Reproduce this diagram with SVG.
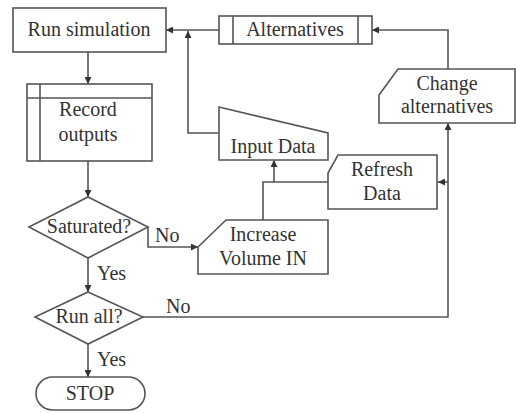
<svg xmlns="http://www.w3.org/2000/svg" width="516" height="413" viewBox="0 0 516 413" font-family="'Liberation Serif', 'DejaVu Serif', serif">
<style>
.s{fill:#fff;stroke:#555;stroke-width:1.6}
.l{fill:none;stroke:#555;stroke-width:1.6}
text{font-family:'Liberation Serif','DejaVu Serif',serif;font-size:20px;fill:#333;text-anchor:middle}
.lb{text-anchor:start}
</style>
<defs>
<marker id="a" viewBox="0 0 10 10" refX="10" refY="5" markerWidth="7" markerHeight="7" markerUnits="userSpaceOnUse" orient="auto">
<path d="M0,0L10,5L0,10z" fill="#333"/>
</marker>
</defs>
<rect width="516" height="413" fill="#fff"/>
<g id="connectors">
<path class="l" d="M88,52V84" marker-end="url(#a)"/>
<path class="l" d="M88,161V197" marker-end="url(#a)"/>
<path class="l" d="M88,258V292" marker-end="url(#a)"/>
<path class="l" d="M88,344V377" marker-end="url(#a)"/>
<path class="l" d="M219,30H166" marker-end="url(#a)"/>
<path class="l" d="M219,133H188V31" marker-end="url(#a)"/>
<path class="l" d="M448,69V30H372" marker-end="url(#a)"/>
<path class="l" d="M143,317H448V123" marker-end="url(#a)"/>
<path class="l" d="M448,182H438" marker-end="url(#a)"/>
<path class="l" d="M148,227V247H198" marker-end="url(#a)"/>
<path class="l" d="M263,220V182H328"/>
<path class="l" d="M274,182V160" marker-end="url(#a)"/>
<text class="lb" x="155" y="242">No</text>
<text class="lb" x="97" y="280">Yes</text>
<text class="lb" x="166" y="313">No</text>
<text class="lb" x="97" y="366">Yes</text>
</g>
<g id="run-simulation">
<rect class="s" x="13" y="8" width="153" height="44"/>
<text x="89" y="36">Run simulation</text>
</g>
<g id="alternatives">
<rect class="s" x="219" y="16" width="153" height="28"/>
<path class="l" d="M233,16V44M358,16V44"/>
<text x="295" y="36">Alternatives</text>
</g>
<g id="record-outputs">
<rect class="s" x="27" y="84" width="125" height="77"/>
<path class="l" d="M27,98H152M40,84V161"/>
<text x="88" y="116">Record</text>
<text x="88" y="141">outputs</text>
</g>
<g id="input-data">
<path class="s" d="M219,107L328,133V160H219Z"/>
<text x="273" y="153">Input Data</text>
</g>
<g id="change-alternatives">
<path class="s" d="M398,69H515V123H379V95Z"/>
<text x="447" y="90">Change</text>
<text x="447" y="113">alternatives</text>
</g>
<g id="refresh-data">
<path class="s" d="M338,155H437V209H328V173Z"/>
<text x="382" y="176">Refresh</text>
<text x="382" y="200">Data</text>
</g>
<g id="increase-volume">
<path class="s" d="M226,220H328V274H198V247Z"/>
<text x="263" y="241">Increase</text>
<text x="263" y="265">Volume IN</text>
</g>
<g id="saturated">
<path class="s" d="M88,197L148,227L88,258L29,227Z"/>
<text x="89" y="233">Saturated?</text>
</g>
<g id="run-all">
<path class="s" d="M88,292L143,317L88,344L35,317Z"/>
<text x="89" y="323">Run all?</text>
</g>
<g id="stop">
<rect class="s" x="36" y="377" width="109" height="33" rx="16.5"/>
<text x="90" y="400">STOP</text>
</g>
</svg>
